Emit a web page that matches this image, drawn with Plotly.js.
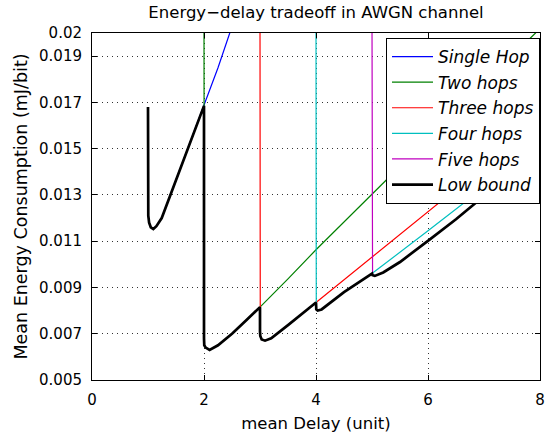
<!DOCTYPE html>
<html>
<head>
<meta charset="utf-8">
<script src="https://cdn.plot.ly/plotly-3.0.1.min.js"></script>
<style>html,body{margin:0;padding:0;background:#fff;}#chart{width:546px;height:435px;}</style>
</head>
<body>
<div id="chart"></div>
<script>
// Series data
const singleX = [1.0, 1.0, 1.005, 1.02, 1.05, 1.095, 1.15, 1.245, 1.393, 1.55, 1.738, 2.0, 2.25, 2.46, 2.5];
const singleY = [0.0168, 0.0124, 0.0121, 0.0118, 0.0116, 0.01153, 0.01165, 0.0120, 0.01295, 0.01396, 0.01517, 0.01685, 0.0185, 0.0200, 0.0203];

const twoX = [2.0, 2.0, 2.005, 2.03, 2.1, 2.25, 2.5, 2.75, 3.0, 3.5, 4.0, 5.17, 6.5, 7.92, 8.0];
const twoY = [0.0205, 0.0068, 0.0065, 0.0064, 0.0063, 0.0065, 0.0070, 0.00757, 0.00815, 0.00937, 0.01063, 0.01344, 0.01665, 0.0200, 0.0202];

const threeX = [3.0, 3.0, 3.005, 3.03, 3.09, 3.2, 3.357, 3.5, 4.0, 5.0, 6.27, 8.0];
const threeY = [0.0205, 0.0071, 0.0069, 0.00675, 0.0067, 0.0068, 0.00709, 0.00737, 0.00835, 0.01031, 0.01279, 0.0162];

const fourX = [4.0, 4.0, 4.005, 4.03, 4.1, 4.5, 5.0, 6.0, 6.72, 8.0];
const fourY = [0.0205, 0.0082, 0.00805, 0.0080, 0.00805, 0.0088, 0.0096, 0.01145, 0.01279, 0.0152];

const fiveX = [5.0, 5.0, 5.01, 5.05, 5.2, 5.5, 6.04, 6.5, 6.93, 8.0];
const fiveY = [0.0205, 0.0096, 0.00953, 0.0095, 0.00965, 0.0101, 0.01109, 0.01195, 0.01281, 0.0148];

const lowX = [1.0, 1.0, 1.005, 1.02, 1.05, 1.095, 1.15, 1.245, 1.393, 1.55, 1.738, 2.0,
              2.0, 2.005, 2.03, 2.1, 2.25, 2.5, 2.75, 3.0,
              3.0, 3.005, 3.03, 3.09, 3.2, 3.357, 3.5, 4.0,
              4.0, 4.005, 4.03, 4.1, 4.5, 5.0,
              5.01, 5.05, 5.2, 5.5, 6.04, 6.5, 6.93, 8.0];
const lowY = [0.0168, 0.0124, 0.0121, 0.0118, 0.0116, 0.01153, 0.01165, 0.0120, 0.01295, 0.01396, 0.01517, 0.01685,
              0.0068, 0.0065, 0.0064, 0.0063, 0.0065, 0.0070, 0.00757, 0.00815,
              0.0071, 0.0069, 0.00675, 0.0067, 0.0068, 0.00709, 0.00737, 0.00835,
              0.0082, 0.00805, 0.0080, 0.00805, 0.0088, 0.0096,
              0.00953, 0.0095, 0.00965, 0.0101, 0.01109, 0.01195, 0.01281, 0.0148];

const seriesNames = ["Single Hop", "Two hops", "Three hops", "Four hops", "Five hops", "Low bound"];
const xTickVals = [0, 2, 4, 6, 8];
const xTickText = ["0", "2", "4", "6", "8"];
const yTickVals = [0.005, 0.007, 0.009, 0.011, 0.013, 0.015, 0.017, 0.019, 0.02];
const yTickText = ["0.005", "0.007", "0.009", "0.011", "0.013", "0.015", "0.017", "0.019", "0.02"];

const FONT = "DejaVu Sans, Liberation Sans, Arial, sans-serif";

function tr(x, y, name, color, width, g) {
  return {x: x, y: y, name: name, type: "scatter", mode: "lines",
          line: {color: color, width: width}, legendgroup: g, hoverinfo: "skip"};
}

const data = [
  tr(singleX, singleY, seriesNames[0], "#0000ff", 1.2, "a"),
  tr(twoX, twoY, seriesNames[1], "#008000", 1.2, "b"),
  tr(threeX, threeY, seriesNames[2], "#ff0000", 1.2, "c"),
  tr(fourX, fourY, seriesNames[3], "#00bfbf", 1.2, "d"),
  tr(fiveX, fiveY, seriesNames[4], "#bf00bf", 1.2, "e"),
  tr(lowX, lowY, seriesNames[5], "#000000", 2.7, "f")
];

const axisCommon = {
  showline: true, linecolor: "#000", linewidth: 1, mirror: "ticks",
  ticks: "inside", ticklen: 5, tickcolor: "#000", tickwidth: 1,
  showgrid: true, gridcolor: "#333", gridwidth: 1, griddash: "1px,4px",
  zeroline: false, tickfont: {family: FONT, size: 15, color: "#000"}
};

const layout = {
  width: 546, height: 435,
  margin: {l: 92, r: 6, t: 33, b: 55},
  paper_bgcolor: "#fff", plot_bgcolor: "#fff",
  title: {text: "Energy\u2212delay tradeoff in AWGN channel",
          font: {family: FONT, size: 16.5, color: "#000"},
          x: 0.5, xref: "paper", y: 1 - 12/435, yref: "container", yanchor: "middle"},
  xaxis: Object.assign({}, axisCommon, {
    range: [0, 8], tickvals: xTickVals, ticktext: xTickText, ticklabelstandoff: 6,
    title: {text: "mean Delay (unit)", font: {family: FONT, size: 16.5, color: "#000"}, standoff: 9}
  }),
  yaxis: Object.assign({}, axisCommon, {
    range: [0.005, 0.02], tickvals: yTickVals, ticktext: yTickText, ticklabelstandoff: 6,
    title: {text: "Mean Energy Consumption (mJ/bit)", font: {family: FONT, size: 17.5, color: "#000"}, standoff: 6}
  }),
  showlegend: true,
  legend: {
    x: (386 - 92) / 448, xanchor: "left", y: (380 - 38) / 347, yanchor: "top",
    bgcolor: "#fff", bordercolor: "#000", borderwidth: 1,
    font: {family: FONT, size: 17, color: "#000", style: "italic"},
    tracegroupgap: 0.5, itemwidth: 41
  }
};

Plotly.newPlot("chart", data, layout, {displayModeBar: false, staticPlot: true});
</script>
</body>
</html>
